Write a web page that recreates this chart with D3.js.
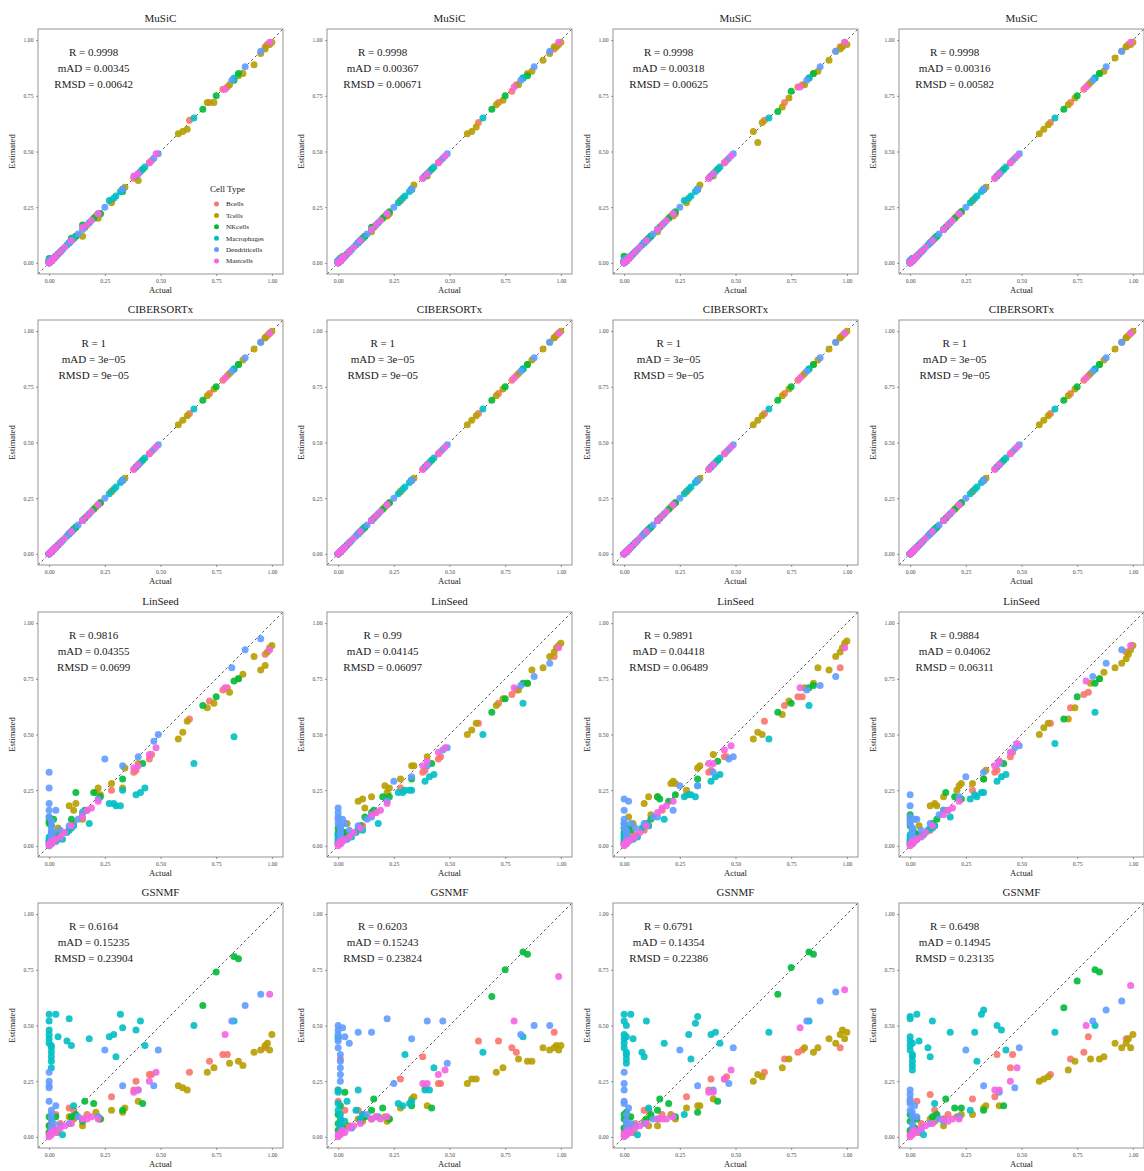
<!DOCTYPE html>
<html lang="en">
<head>
  <meta charset="UTF-8">
  <title>Deconvolution: estimated vs actual proportions</title>
  <script src="https://d3js.org/d3.v7.min.js"></script>
  <style>
    body { margin: 0; background: #fff; }
    text { font-family: "Liberation Serif", "Times New Roman", serif; }
  </style>
</head>
<body>
  <svg id="chart" width="1144" height="1171"></svg>
  <script>
    const cellTypes = ["Bcells", "Tcells", "NKcells", "Macrophages", "Dendriticells", "Mastcells"];
    const cellColors = ["#F8766D", "#B79F00", "#00BA38", "#00BFC4", "#619CFF", "#F564E3"];
    const methods = ["MuSiC", "CIBERSORTx", "LinSeed", "GSNMF"];
    const tickValues = [0, 0.25, 0.5, 0.75, 1];

    // simulated truth, one sub-array per cell type (same order as cellTypes)
    const actual = [
      [0.00,0.00,0.01,0.01,0.02,0.03,0.05,0.09,0.11,0.17,0.28,0.38,0.39,0.45,0.46,0.63,0.72,0.78,0.80,0.97],
      [0.02,0.04,0.09,0.11,0.12,0.15,0.21,0.22,0.23,0.28,0.33,0.34,0.40,0.58,0.60,0.62,0.71,0.74,0.81,0.85,0.87,0.92,0.95,0.97,0.98,0.99,1.00],
      [0.00,0.00,0.00,0.01,0.02,0.03,0.10,0.12,0.15,0.16,0.20,0.23,0.33,0.42,0.69,0.75,0.83,0.85],
      [0.00,0.00,0.00,0.00,0.00,0.00,0.01,0.01,0.01,0.01,0.01,0.01,0.03,0.04,0.06,0.08,0.09,0.10,0.11,0.18,0.27,0.29,0.30,0.32,0.33,0.39,0.41,0.43,0.65,0.83],
      [0.00,0.00,0.00,0.00,0.00,0.01,0.01,0.01,0.01,0.01,0.02,0.03,0.05,0.09,0.13,0.15,0.22,0.25,0.33,0.40,0.47,0.49,0.82,0.88,0.95],
      [0.00,0.00,0.01,0.01,0.02,0.03,0.05,0.07,0.10,0.15,0.17,0.19,0.22,0.38,0.40,0.45,0.48,0.79,0.99]
    ];

    // estimated proportions per panel, same layout as `actual`
    const music1 = [
      [0.00,0.01,0.01,0.01,0.02,0.03,0.05,0.09,0.11,0.17,0.28,0.38,0.39,0.45,0.46,0.64,0.72,0.78,0.79,0.97],
      [0.02,0.04,0.09,0.11,0.12,0.12,0.21,0.20,0.22,0.27,0.33,0.34,0.37,0.58,0.59,0.60,0.72,0.72,0.80,0.84,0.85,0.89,0.94,0.96,0.98,0.98,0.99],
      [0.02,0.00,0.01,0.01,0.02,0.03,0.11,0.12,0.17,0.16,0.20,0.22,0.32,0.42,0.69,0.75,0.82,0.85],
      [0.00,0.00,0.01,0.01,0.00,0.01,0.01,0.02,0.01,0.01,0.02,0.01,0.03,0.04,0.06,0.08,0.09,0.10,0.11,0.18,0.28,0.29,0.30,0.32,0.33,0.39,0.41,0.43,0.65,0.83],
      [0.00,0.01,0.00,0.01,0.00,0.01,0.02,0.01,0.01,0.01,0.02,0.03,0.05,0.09,0.13,0.15,0.22,0.25,0.33,0.40,0.47,0.49,0.82,0.88,0.95],
      [0.00,0.00,0.01,0.01,0.02,0.03,0.05,0.07,0.10,0.16,0.17,0.19,0.22,0.39,0.40,0.45,0.49,0.78,0.99]
    ];
    const music2 = [
      [0.00,0.01,0.01,0.02,0.02,0.03,0.05,0.09,0.11,0.17,0.28,0.38,0.39,0.45,0.46,0.63,0.72,0.77,0.80,0.96],
      [0.03,0.04,0.09,0.11,0.12,0.14,0.21,0.21,0.22,0.28,0.33,0.35,0.39,0.58,0.59,0.61,0.71,0.73,0.80,0.85,0.86,0.91,0.94,0.97,0.97,0.98,0.99],
      [0.01,0.00,0.01,0.01,0.02,0.03,0.10,0.12,0.16,0.16,0.20,0.23,0.33,0.42,0.69,0.75,0.83,0.84],
      [0.00,0.01,0.00,0.01,0.00,0.01,0.01,0.01,0.02,0.01,0.01,0.02,0.03,0.04,0.06,0.08,0.09,0.10,0.11,0.18,0.27,0.29,0.30,0.32,0.33,0.39,0.41,0.43,0.65,0.83],
      [0.00,0.00,0.01,0.01,0.00,0.01,0.01,0.02,0.01,0.01,0.02,0.03,0.05,0.09,0.13,0.15,0.22,0.25,0.33,0.40,0.47,0.49,0.82,0.88,0.95],
      [0.00,0.00,0.01,0.01,0.02,0.03,0.05,0.07,0.10,0.15,0.17,0.19,0.22,0.38,0.40,0.45,0.48,0.79,0.99]
    ];
    const music3 = [
      [0.00,0.01,0.01,0.01,0.02,0.03,0.05,0.09,0.11,0.17,0.28,0.38,0.39,0.45,0.46,0.64,0.72,0.79,0.80,0.97],
      [0.02,0.04,0.09,0.11,0.12,0.14,0.21,0.21,0.22,0.27,0.33,0.35,0.39,0.59,0.54,0.63,0.70,0.74,0.80,0.85,0.86,0.91,0.95,0.96,0.97,0.99,0.98],
      [0.03,0.00,0.01,0.01,0.02,0.03,0.10,0.12,0.15,0.16,0.20,0.23,0.33,0.42,0.68,0.77,0.83,0.85],
      [0.00,0.00,0.01,0.01,0.00,0.01,0.01,0.02,0.01,0.01,0.02,0.01,0.03,0.04,0.06,0.08,0.09,0.10,0.11,0.18,0.28,0.29,0.30,0.32,0.33,0.39,0.41,0.43,0.65,0.83],
      [0.00,0.01,0.00,0.01,0.00,0.01,0.02,0.01,0.01,0.01,0.02,0.03,0.05,0.09,0.13,0.15,0.22,0.25,0.33,0.40,0.47,0.49,0.82,0.88,0.95],
      [0.00,0.00,0.01,0.01,0.02,0.03,0.05,0.07,0.10,0.15,0.17,0.19,0.22,0.38,0.40,0.45,0.48,0.79,0.99]
    ];
    const music4 = [
      [0.00,0.00,0.01,0.01,0.02,0.03,0.05,0.09,0.11,0.17,0.28,0.38,0.39,0.45,0.46,0.63,0.72,0.78,0.80,0.97],
      [0.02,0.04,0.09,0.11,0.12,0.15,0.21,0.22,0.23,0.28,0.33,0.34,0.40,0.58,0.60,0.62,0.71,0.74,0.81,0.85,0.86,0.92,0.95,0.97,0.98,0.98,0.99],
      [0.01,0.00,0.00,0.01,0.02,0.03,0.10,0.12,0.15,0.16,0.20,0.23,0.33,0.42,0.69,0.75,0.83,0.85],
      [0.00,0.01,0.00,0.01,0.00,0.01,0.01,0.01,0.02,0.01,0.01,0.02,0.03,0.04,0.06,0.08,0.09,0.10,0.11,0.18,0.27,0.29,0.30,0.32,0.33,0.39,0.41,0.43,0.65,0.83],
      [0.00,0.00,0.01,0.01,0.00,0.01,0.01,0.02,0.01,0.01,0.02,0.03,0.05,0.09,0.13,0.15,0.22,0.25,0.33,0.40,0.47,0.49,0.82,0.88,0.95],
      [0.00,0.00,0.01,0.01,0.02,0.03,0.05,0.07,0.10,0.15,0.17,0.19,0.22,0.38,0.40,0.45,0.48,0.79,0.99]
    ];
    // CIBERSORTx is identical in all four columns
    const cibersortx = [
      [0.00,0.00,0.01,0.01,0.02,0.03,0.05,0.09,0.11,0.17,0.28,0.38,0.39,0.45,0.46,0.63,0.72,0.78,0.80,0.97],
      [0.02,0.04,0.09,0.11,0.12,0.15,0.21,0.22,0.23,0.28,0.33,0.34,0.40,0.58,0.60,0.62,0.71,0.74,0.81,0.85,0.87,0.92,0.95,0.97,0.98,0.99,1.00],
      [0.00,0.00,0.00,0.01,0.02,0.03,0.10,0.12,0.15,0.16,0.20,0.23,0.33,0.42,0.69,0.75,0.83,0.85],
      [0.00,0.00,0.00,0.00,0.00,0.00,0.01,0.01,0.01,0.01,0.01,0.01,0.03,0.04,0.06,0.08,0.09,0.10,0.11,0.18,0.27,0.29,0.30,0.32,0.33,0.39,0.41,0.43,0.65,0.83],
      [0.00,0.00,0.00,0.00,0.00,0.01,0.01,0.01,0.01,0.01,0.02,0.03,0.05,0.09,0.13,0.15,0.22,0.25,0.33,0.40,0.47,0.49,0.82,0.88,0.95],
      [0.00,0.00,0.01,0.01,0.02,0.03,0.05,0.07,0.10,0.15,0.17,0.19,0.22,0.38,0.40,0.45,0.48,0.79,0.99]
    ];
    const linseed1 = [
      [0.01,0.02,0.03,0.02,0.04,0.05,0.06,0.08,0.10,0.16,0.25,0.33,0.34,0.39,0.41,0.57,0.65,0.70,0.71,0.86],
      [0.05,0.08,0.18,0.16,0.19,0.12,0.24,0.26,0.23,0.28,0.26,0.35,0.37,0.48,0.51,0.56,0.62,0.64,0.69,0.75,0.77,0.85,0.79,0.81,0.87,0.89,0.90],
      [0.13,0.11,0.10,0.09,0.12,0.05,0.12,0.24,0.15,0.16,0.24,0.22,0.30,0.37,0.63,0.67,0.74,0.75],
      [0.00,0.01,0.02,0.02,0.03,0.04,0.01,0.02,0.03,0.05,0.04,0.06,0.02,0.03,0.03,0.06,0.07,0.08,0.09,0.10,0.19,0.19,0.18,0.18,0.25,0.23,0.24,0.26,0.37,0.49],
      [0.33,0.26,0.19,0.16,0.13,0.11,0.09,0.07,0.05,0.03,0.06,0.16,0.07,0.09,0.12,0.15,0.21,0.39,0.36,0.40,0.47,0.50,0.80,0.88,0.93],
      [0.00,0.01,0.01,0.02,0.02,0.03,0.04,0.06,0.09,0.13,0.16,0.17,0.20,0.35,0.36,0.41,0.44,0.71,0.88]
    ];
    const linseed2 = [
      [0.01,0.01,0.02,0.02,0.03,0.04,0.05,0.07,0.09,0.15,0.26,0.33,0.34,0.39,0.40,0.55,0.64,0.68,0.70,0.85],
      [0.06,0.10,0.20,0.21,0.17,0.22,0.27,0.24,0.26,0.30,0.36,0.36,0.40,0.50,0.52,0.55,0.63,0.66,0.70,0.73,0.79,0.80,0.85,0.87,0.89,0.90,0.91],
      [0.08,0.06,0.05,0.04,0.05,0.06,0.09,0.13,0.15,0.16,0.22,0.22,0.30,0.37,0.60,0.66,0.73,0.73],
      [0.01,0.02,0.03,0.04,0.02,0.05,0.03,0.06,0.04,0.07,0.01,0.08,0.03,0.03,0.04,0.06,0.08,0.08,0.07,0.10,0.24,0.24,0.25,0.25,0.25,0.29,0.31,0.32,0.50,0.64],
      [0.17,0.15,0.13,0.12,0.10,0.09,0.08,0.06,0.05,0.03,0.12,0.10,0.07,0.09,0.12,0.13,0.20,0.29,0.31,0.36,0.43,0.44,0.72,0.76,0.82],
      [0.00,0.01,0.01,0.02,0.02,0.03,0.04,0.06,0.08,0.14,0.15,0.16,0.19,0.36,0.38,0.42,0.44,0.71,0.89]
    ];
    const linseed3 = [
      [0.01,0.01,0.02,0.02,0.03,0.04,0.05,0.07,0.09,0.16,0.23,0.33,0.34,0.40,0.40,0.56,0.63,0.67,0.67,0.80],
      [0.13,0.10,0.19,0.22,0.14,0.22,0.28,0.29,0.28,0.25,0.35,0.36,0.41,0.48,0.51,0.50,0.59,0.65,0.71,0.73,0.80,0.79,0.85,0.87,0.89,0.91,0.92],
      [0.10,0.08,0.06,0.05,0.08,0.07,0.10,0.12,0.22,0.21,0.20,0.23,0.30,0.38,0.60,0.64,0.71,0.72],
      [0.01,0.02,0.03,0.02,0.04,0.05,0.03,0.06,0.02,0.04,0.07,0.01,0.03,0.03,0.04,0.08,0.09,0.10,0.09,0.12,0.22,0.23,0.23,0.22,0.27,0.29,0.31,0.32,0.48,0.63],
      [0.21,0.16,0.12,0.10,0.08,0.07,0.06,0.05,0.03,0.02,0.20,0.10,0.08,0.10,0.13,0.13,0.16,0.27,0.27,0.33,0.39,0.40,0.70,0.72,0.76],
      [0.00,0.01,0.01,0.02,0.02,0.03,0.04,0.06,0.09,0.15,0.17,0.18,0.20,0.37,0.37,0.43,0.45,0.71,0.89]
    ];
    const linseed4 = [
      [0.01,0.01,0.02,0.02,0.03,0.04,0.05,0.07,0.09,0.16,0.25,0.33,0.34,0.40,0.42,0.55,0.62,0.68,0.69,0.87],
      [0.05,0.09,0.18,0.19,0.18,0.22,0.25,0.27,0.28,0.28,0.30,0.34,0.38,0.50,0.53,0.55,0.57,0.62,0.73,0.75,0.78,0.80,0.82,0.84,0.86,0.88,0.90],
      [0.14,0.12,0.09,0.07,0.06,0.05,0.10,0.12,0.16,0.24,0.22,0.21,0.30,0.37,0.57,0.67,0.73,0.75],
      [0.01,0.02,0.03,0.04,0.02,0.05,0.03,0.01,0.04,0.06,0.02,0.07,0.03,0.04,0.05,0.07,0.08,0.08,0.09,0.13,0.21,0.23,0.22,0.24,0.24,0.29,0.31,0.32,0.46,0.60],
      [0.23,0.18,0.13,0.11,0.10,0.08,0.07,0.05,0.04,0.02,0.12,0.12,0.07,0.10,0.14,0.16,0.22,0.31,0.33,0.37,0.44,0.45,0.76,0.82,0.88],
      [0.00,0.01,0.01,0.02,0.02,0.03,0.04,0.06,0.09,0.14,0.16,0.17,0.20,0.36,0.38,0.42,0.46,0.74,0.90]
    ];
    const gsnmf1 = [
      [0.02,0.05,0.03,0.08,0.04,0.10,0.06,0.13,0.12,0.10,0.18,0.21,0.25,0.28,0.28,0.29,0.34,0.37,0.37,0.40],
      [0.03,0.02,0.09,0.08,0.09,0.05,0.11,0.09,0.08,0.12,0.11,0.13,0.16,0.23,0.22,0.21,0.29,0.31,0.33,0.34,0.32,0.38,0.39,0.41,0.42,0.39,0.46],
      [0.09,0.05,0.02,0.08,0.03,0.09,0.09,0.10,0.07,0.16,0.15,0.08,0.12,0.15,0.59,0.74,0.81,0.80],
      [0.55,0.52,0.48,0.46,0.44,0.42,0.41,0.40,0.38,0.36,0.34,0.31,0.55,0.45,0.01,0.43,0.53,0.41,0.14,0.44,0.45,0.46,0.36,0.55,0.49,0.48,0.52,0.41,0.50,0.52],
      [0.29,0.25,0.23,0.22,0.16,0.12,0.10,0.08,0.05,0.03,0.06,0.14,0.05,0.06,0.09,0.08,0.09,0.39,0.23,0.21,0.23,0.39,0.52,0.59,0.64],
      [0.01,0.00,0.02,0.01,0.03,0.02,0.04,0.05,0.06,0.08,0.08,0.09,0.08,0.20,0.21,0.25,0.29,0.46,0.64]
    ];
    const gsnmf2 = [
      [0.21,0.16,0.35,0.08,0.04,0.12,0.05,0.12,0.10,0.09,0.26,0.36,0.22,0.24,0.24,0.43,0.43,0.40,0.38,0.47],
      [0.02,0.05,0.08,0.07,0.09,0.08,0.09,0.07,0.08,0.13,0.17,0.18,0.14,0.24,0.26,0.26,0.29,0.31,0.35,0.34,0.34,0.40,0.39,0.40,0.41,0.39,0.41],
      [0.10,0.06,0.03,0.14,0.04,0.20,0.07,0.09,0.12,0.17,0.13,0.08,0.14,0.13,0.63,0.75,0.83,0.82],
      [0.45,0.44,0.21,0.20,0.15,0.12,0.10,0.08,0.06,0.05,0.03,0.02,0.07,0.16,0.04,0.12,0.21,0.08,0.10,0.09,0.15,0.14,0.37,0.15,0.16,0.21,0.21,0.31,0.38,0.45],
      [0.50,0.48,0.46,0.43,0.40,0.37,0.34,0.31,0.28,0.25,0.49,0.45,0.42,0.47,0.10,0.47,0.53,0.24,0.44,0.52,0.52,0.33,0.46,0.50,0.50],
      [0.00,0.01,0.02,0.01,0.03,0.02,0.04,0.05,0.06,0.08,0.09,0.08,0.09,0.24,0.24,0.28,0.30,0.52,0.72]
    ];
    const gsnmf3 = [
      [0.02,0.04,0.03,0.06,0.09,0.05,0.06,0.12,0.12,0.10,0.18,0.21,0.26,0.26,0.27,0.29,0.35,0.38,0.39,0.40],
      [0.03,0.02,0.07,0.05,0.09,0.05,0.10,0.09,0.08,0.13,0.14,0.14,0.17,0.25,0.28,0.27,0.31,0.35,0.40,0.38,0.40,0.44,0.42,0.46,0.48,0.44,0.47],
      [0.10,0.08,0.04,0.11,0.03,0.09,0.08,0.10,0.12,0.17,0.15,0.09,0.11,0.16,0.64,0.76,0.83,0.82],
      [0.55,0.52,0.46,0.44,0.42,0.40,0.38,0.37,0.35,0.33,0.45,0.50,0.55,0.44,0.01,0.38,0.36,0.52,0.13,0.42,0.10,0.46,0.35,0.51,0.54,0.46,0.47,0.42,0.47,0.52],
      [0.29,0.24,0.21,0.16,0.15,0.10,0.07,0.05,0.03,0.01,0.13,0.06,0.05,0.06,0.08,0.08,0.09,0.39,0.23,0.21,0.24,0.40,0.52,0.61,0.65],
      [0.00,0.01,0.02,0.01,0.03,0.02,0.04,0.05,0.06,0.08,0.08,0.08,0.09,0.20,0.20,0.26,0.30,0.49,0.66]
    ];
    const gsnmf4 = [
      [0.02,0.16,0.03,0.07,0.04,0.16,0.06,0.19,0.12,0.10,0.17,0.18,0.37,0.31,0.37,0.28,0.35,0.38,0.45,0.44],
      [0.03,0.02,0.08,0.07,0.09,0.05,0.09,0.09,0.10,0.10,0.13,0.14,0.14,0.25,0.26,0.27,0.30,0.34,0.35,0.35,0.36,0.42,0.40,0.42,0.44,0.40,0.46],
      [0.10,0.07,0.03,0.09,0.04,0.08,0.09,0.10,0.08,0.17,0.13,0.13,0.12,0.14,0.58,0.70,0.75,0.74],
      [0.54,0.53,0.45,0.43,0.41,0.39,0.36,0.34,0.32,0.30,0.42,0.37,0.55,0.43,0.01,0.40,0.36,0.52,0.15,0.47,0.12,0.47,0.34,0.55,0.57,0.50,0.48,0.39,0.47,0.50],
      [0.21,0.19,0.17,0.15,0.12,0.09,0.06,0.04,0.02,0.11,0.14,0.09,0.03,0.06,0.08,0.07,0.09,0.39,0.23,0.20,0.22,0.40,0.52,0.57,0.61],
      [0.00,0.01,0.02,0.01,0.03,0.02,0.04,0.05,0.06,0.08,0.07,0.08,0.08,0.21,0.21,0.25,0.31,0.50,0.68]
    ];

    const statR = [
      ["0.9998", "0.9998", "0.9998", "0.9998"],
      ["1", "1", "1", "1"],
      ["0.9816", "0.99", "0.9891", "0.9884"],
      ["0.6164", "0.6203", "0.6791", "0.6498"]
    ];
    const statMAD = [
      ["0.00345", "0.00367", "0.00318", "0.00316"],
      ["3e\u221205", "3e\u221205", "3e\u221205", "3e\u221205"],
      ["0.04355", "0.04145", "0.04418", "0.04062"],
      ["0.15235", "0.15243", "0.14354", "0.14945"]
    ];
    const statRMSD = [
      ["0.00642", "0.00671", "0.00625", "0.00582"],
      ["9e\u221205", "9e\u221205", "9e\u221205", "9e\u221205"],
      ["0.0699", "0.06097", "0.06489", "0.06311"],
      ["0.23904", "0.23824", "0.22386", "0.23135"]
    ];

    const panelEstimates = [
      [music1, music2, music3, music4],
      [cibersortx, cibersortx, cibersortx, cibersortx],
      [linseed1, linseed2, linseed3, linseed4],
      [gsnmf1, gsnmf2, gsnmf3, gsnmf4]
    ];

    // layout
    const colLeft = [38, 327, 613, 899];
    const rowTop = [29, 320, 612, 903];
    const size = 245;

    const svg = d3.select("#chart");
    const x = d3.scaleLinear().domain([-0.05, 1.05]).range([0, size]);
    const y = d3.scaleLinear().domain([-0.05, 1.05]).range([size, 0]);

    methods.forEach((method, r) => {
      colLeft.forEach((left, c) => {
        const g = svg.append("g").attr("transform", `translate(${left},${rowTop[r]})`);
        const est = panelEstimates[r][c];

        // flatten to points
        const points = [];
        actual.forEach((vals, t) => {
          vals.forEach((a, i) => points.push({ a: a, e: est[t][i], t: t }));
        });

        g.append("rect")
          .attr("width", size).attr("height", size)
          .attr("fill", "#fff");

        g.append("line")
          .attr("x1", x(-0.05)).attr("y1", y(-0.05))
          .attr("x2", x(1.05)).attr("y2", y(1.05))
          .attr("stroke", "#444")
          .attr("stroke-width", 0.9)
          .attr("stroke-dasharray", "2.6,2.6");

        g.selectAll("circle.pt").data(points)
          .join("circle")
          .attr("class", "pt")
          .attr("cx", d => x(d.a))
          .attr("cy", d => y(d.e))
          .attr("r", 3.5)
          .attr("fill", d => cellColors[d.t])
          .attr("fill-opacity", 0.9);

        g.append("rect")
          .attr("width", size).attr("height", size)
          .attr("fill", "none")
          .attr("stroke", "#8a8a8a")
          .attr("stroke-width", 0.9);

        const xAxis = g.append("g")
          .attr("transform", `translate(0,${size})`)
          .call(d3.axisBottom(x).tickValues(tickValues).tickFormat(d3.format(".2f")).tickSize(2).tickPadding(2.5));
        const yAxis = g.append("g")
          .call(d3.axisLeft(y).tickValues(tickValues).tickFormat(d3.format(".2f")).tickSize(2).tickPadding(2.5));
        [xAxis, yAxis].forEach(ax => {
          ax.select(".domain").remove();
          ax.selectAll("line").attr("stroke", "#555").attr("stroke-width", 0.6);
          ax.selectAll("text")
            .attr("fill", "#4d4d4d")
            .style("font-size", "5.7px")
            .style("font-family", "'Liberation Serif', serif");
        });

        // title and axis titles
        g.append("text")
          .attr("x", size / 2).attr("y", -7)
          .attr("text-anchor", "middle")
          .style("font-size", "11px")
          .attr("fill", "#1a1a1a")
          .text(method);
        g.append("text")
          .attr("x", size / 2).attr("y", size + 19)
          .attr("text-anchor", "middle")
          .style("font-size", "8.6px")
          .attr("fill", "#1a1a1a")
          .text("Actual");
        g.append("text")
          .attr("transform", `translate(-23,${size / 2}) rotate(-90)`)
          .attr("text-anchor", "middle")
          .style("font-size", "8.6px")
          .attr("fill", "#1a1a1a")
          .text("Estimated");

        // statistics
        const lines = [
          "R = " + statR[r][c],
          "mAD = " + statMAD[r][c],
          "RMSD = " + statRMSD[r][c]
        ];
        g.selectAll("text.stat").data(lines)
          .join("text")
          .attr("class", "stat")
          .attr("x", x(0.2))
          .attr("y", (d, i) => 27 + i * 16)
          .attr("text-anchor", "middle")
          .style("font-size", "11px")
          .attr("fill", "#1a1a1a")
          .text(d => d);

        // legend only in the first panel
        if (r === 0 && c === 0) {
          const lg = g.append("g").attr("transform", "translate(172,160)");
          lg.append("text")
            .attr("x", 0).attr("y", 3)
            .style("font-size", "9px")
            .attr("fill", "#1a1a1a")
            .text("Cell Type");
          cellTypes.forEach((name, i) => {
            lg.append("circle")
              .attr("cx", 6.5).attr("cy", 15 + i * 11.4)
              .attr("r", 2.5)
              .attr("fill", cellColors[i]);
            lg.append("text")
              .attr("x", 16).attr("y", 17.4 + i * 11.4)
              .style("font-size", "7px")
              .attr("fill", "#1a1a1a")
              .text(name);
          });
        }
      });
    });
  </script>
</body>
</html>
